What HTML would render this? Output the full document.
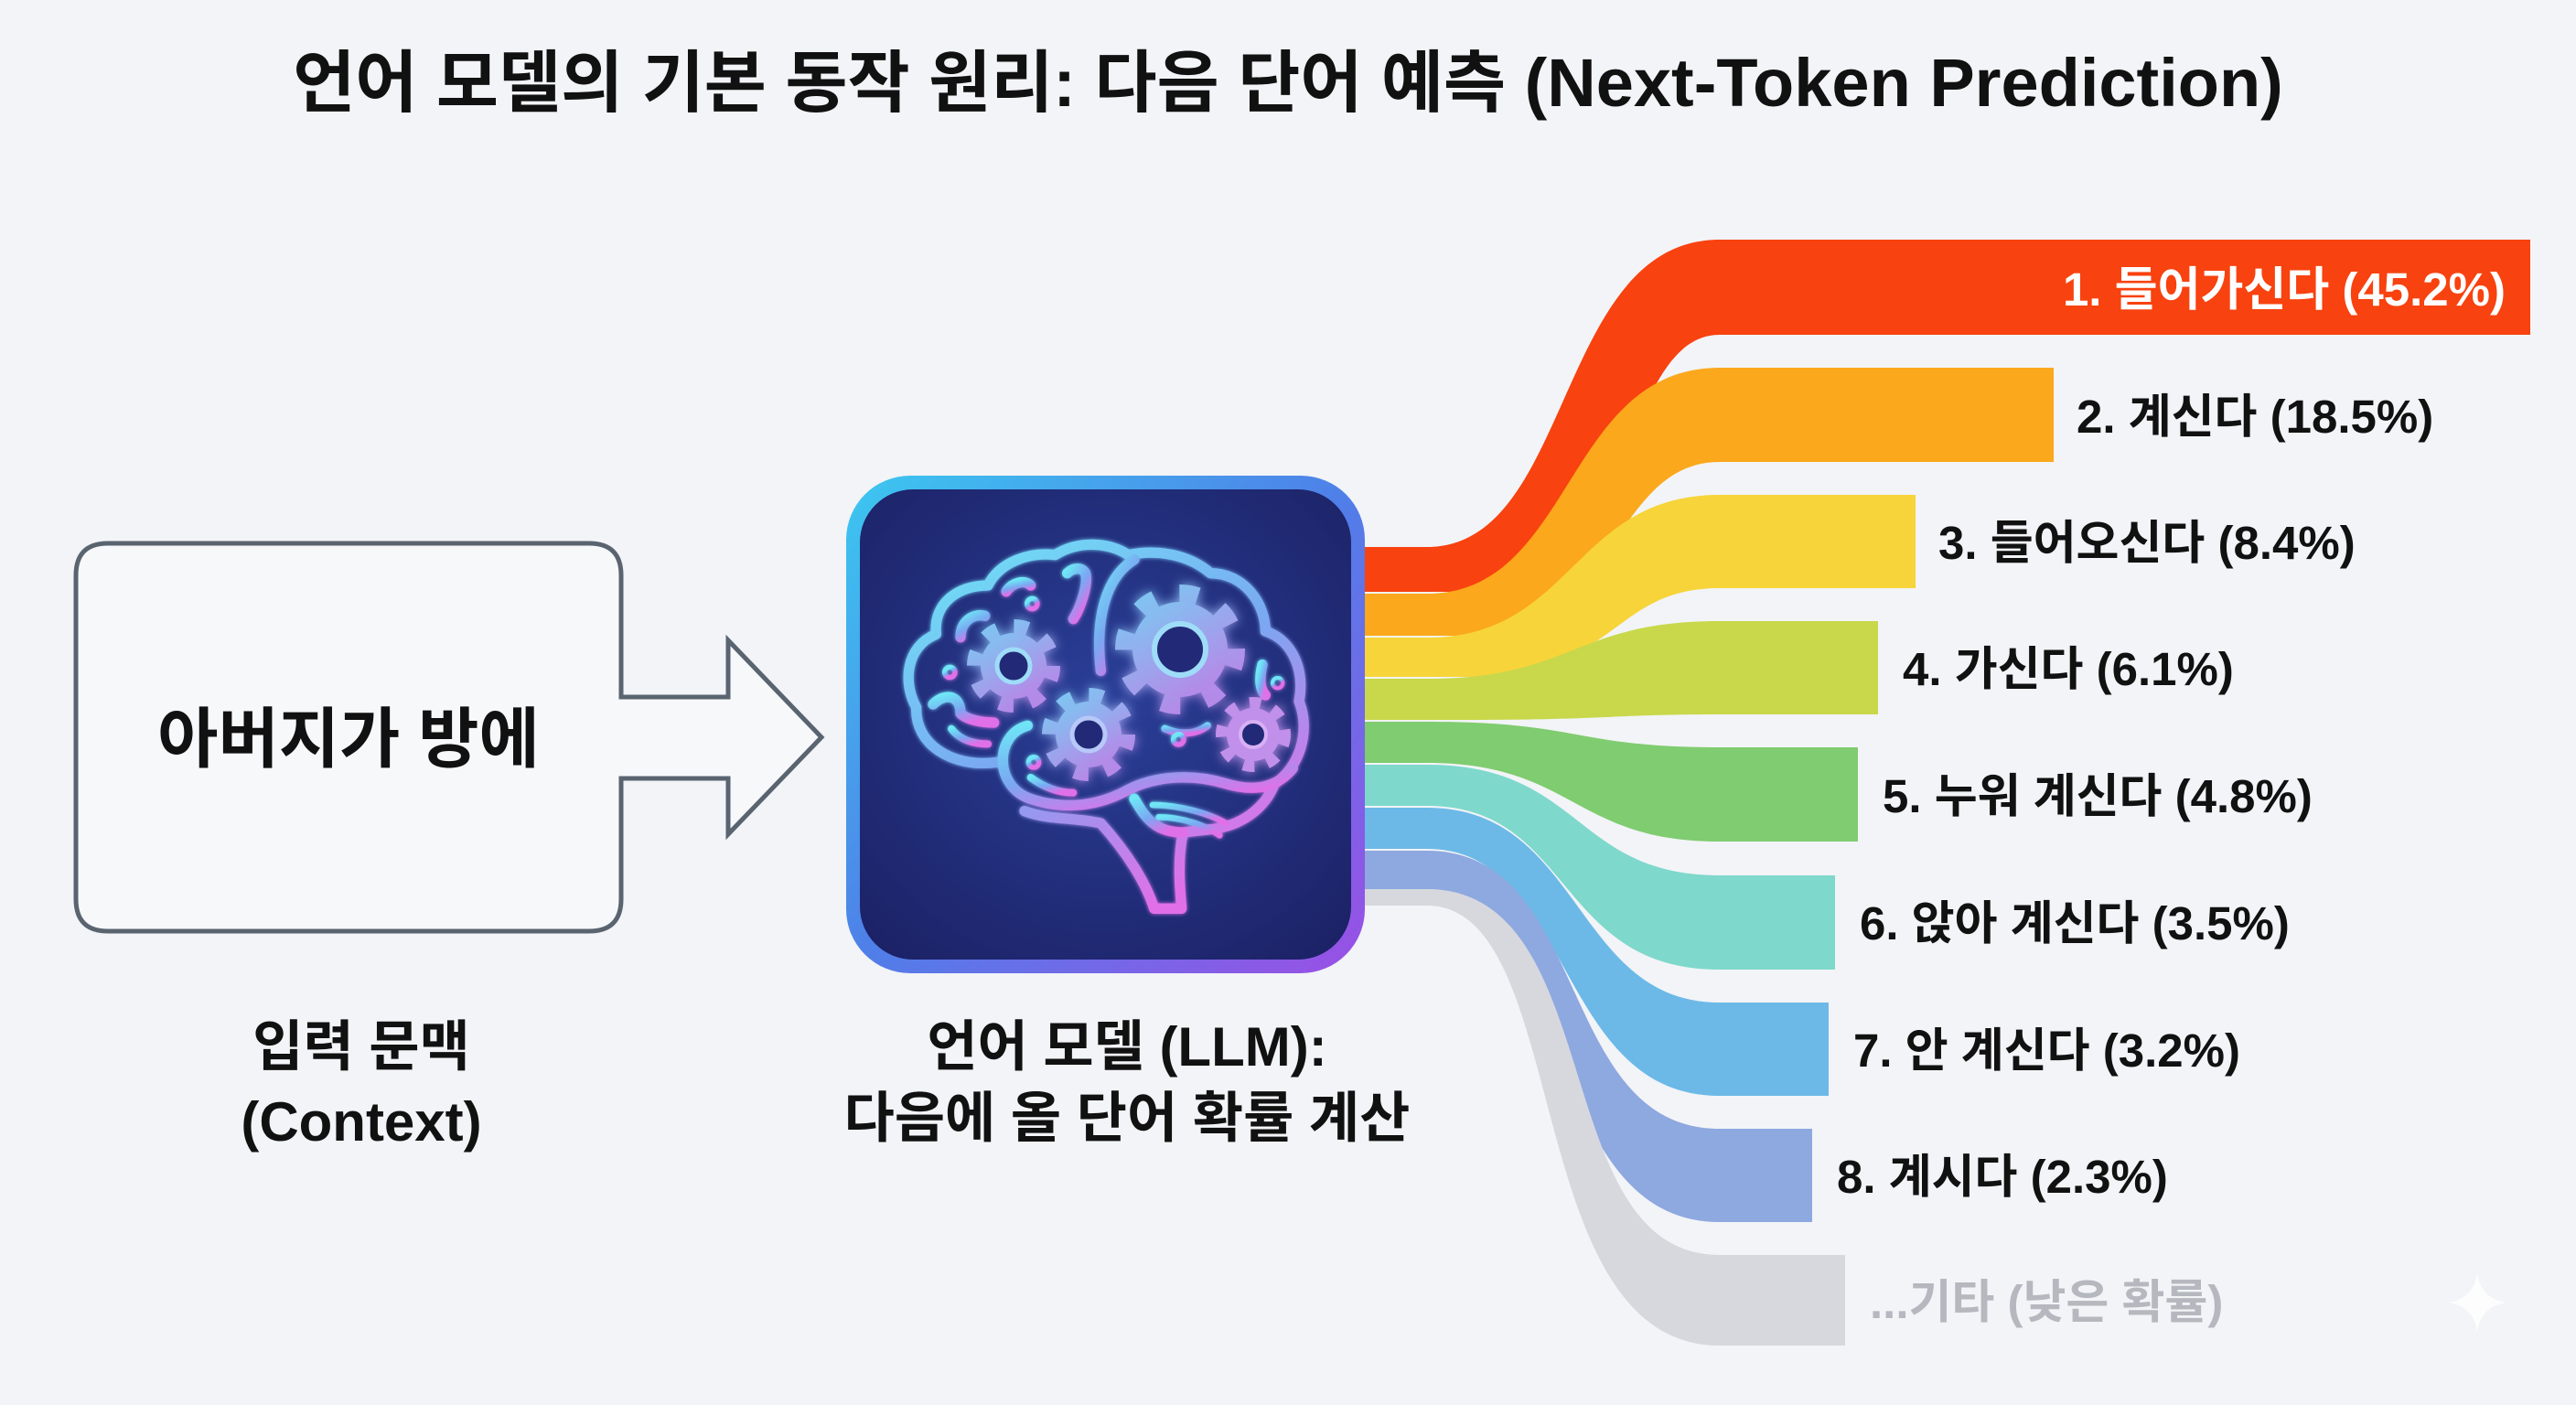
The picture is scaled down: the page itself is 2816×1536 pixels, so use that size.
<!DOCTYPE html>
<html><head><meta charset="utf-8"><style>
html,body{margin:0;padding:0;background:#f2f4f7;}
svg{display:block}
text{font-family:"Liberation Sans","Noto Sans CJK KR",sans-serif;}
</style></head><body>
<svg width="2816" height="1536" viewBox="0 0 2816 1536" xmlns="http://www.w3.org/2000/svg">
<defs>
<linearGradient id="bord" x1="0" y1="0" x2="1" y2="1">
<stop offset="0" stop-color="#3cc8f0"/><stop offset="0.5" stop-color="#4f7fe8"/><stop offset="1" stop-color="#9b4fe6"/></linearGradient>
<radialGradient id="inner" cx="0.5" cy="0.45" r="0.7">
<stop offset="0" stop-color="#2a3f98"/><stop offset="1" stop-color="#1c2266"/></radialGradient>
<linearGradient id="neon" x1="0" y1="0" x2="0.6" y2="1">
<stop offset="0" stop-color="#6fe6f6"/><stop offset="0.55" stop-color="#7aa8f2"/><stop offset="1" stop-color="#e070e8"/></linearGradient>
<linearGradient id="gearf" x1="0" y1="0" x2="0.6" y2="1">
<stop offset="0" stop-color="#7cc8f2"/><stop offset="1" stop-color="#b48ae8"/></linearGradient>
<filter id="glow" x="-20%" y="-20%" width="140%" height="140%"><feGaussianBlur stdDeviation="6" result="b"/><feMerge><feMergeNode in="b"/><feMergeNode in="SourceGraphic"/></feMerge></filter>
</defs>
<rect width="2816" height="1536" fill="#f2f4f7"/>

<text x="1408" y="116" text-anchor="middle" font-size="74" font-weight="bold" fill="#111">언어 모델의 기본 동작 원리: 다음 단어 예측 (Next-Token Prediction)</text>

<!-- input box + arrow -->
<path d="M118,594 H644 Q679,594 679,629 V762 H796 V700 L898,806 L796,912 V851 H679 V983 Q679,1018 644,1018 H118 Q83,1018 83,983 V629 Q83,594 118,594 Z" fill="#f7f8fa" stroke="#5a6470" stroke-width="5" stroke-linejoin="miter"/>
<text x="381" y="833" text-anchor="middle" font-size="72" font-weight="bold" fill="#111">아버지가 방에</text>
<text x="395" y="1165" text-anchor="middle" font-size="60" font-weight="bold" fill="#111">입력 문맥</text>
<text x="395" y="1247" text-anchor="middle" font-size="60" font-weight="bold" fill="#111">(Context)</text>

<!-- flows -->
<g>
<path d="M1480,598 L1560,598 C1720,598 1700,262 1880,262 L1940,262 L1940,366 L1880,366 C1770,366 1790,645 1600,647 L1480,647 Z" fill="#f8420f"/>
<path d="M1480,649 L1560,649 C1720,649 1710,402 1880,402 L1940,402 L1940,505 L1880,505 C1760,505 1770,695 1600,695 L1480,695 Z" fill="#fba81c"/>
<path d="M1480,697 L1560,697 C1720,697 1720,541 1880,541 L1940,541 L1940,643 L1880,643 C1760,643 1770,740 1600,740 L1480,740 Z" fill="#f7d43a"/>
<path d="M1480,742 L1560,742 C1720,742 1720,679 1880,679 L1940,679 L1940,781 L1880,781 C1760,781 1760,787 1600,787 L1480,787 Z" fill="#c8d84a"/>
<path d="M1480,789 L1560,789 C1730,789 1720,817 1880,817 L1940,817 L1940,920 L1880,920 C1720,920 1720,834 1560,834 L1480,834 Z" fill="#80cc70"/>
<path d="M1480,836 L1560,836 C1730,836 1720,957 1880,957 L1940,957 L1940,1060 L1880,1060 C1700,1060 1720,881 1560,881 L1480,881 Z" fill="#7fd8cc"/>
<path d="M1480,883 L1560,883 C1730,883 1720,1096 1880,1096 L1940,1096 L1940,1198 L1880,1198 C1700,1198 1720,928 1560,928 L1480,928 Z" fill="#6cb9e8"/>
<path d="M1480,930 L1560,930 C1740,930 1700,1234 1880,1234 L1940,1234 L1940,1336 L1880,1336 C1680,1336 1720,972 1560,972 L1480,972 Z" fill="#8ea8e0"/>
<path d="M1480,972 L1560,972 C1760,972 1690,1372 1880,1372 L1940,1372 L1940,1471 L1880,1471 C1660,1471 1720,990 1560,990 L1480,990 Z" fill="#d6d8de"/>
</g>
<!-- bars -->
<rect x="1932" y="262" width="834" height="104" fill="#f8420f"/>
<rect x="1932" y="402" width="313" height="103" fill="#fba81c"/>
<rect x="1932" y="541" width="162" height="102" fill="#f7d43a"/>
<rect x="1932" y="679" width="121" height="102" fill="#c8d84a"/>
<rect x="1932" y="817" width="99" height="103" fill="#80cc70"/>
<rect x="1932" y="957" width="74" height="103" fill="#7fd8cc"/>
<rect x="1932" y="1096" width="67" height="102" fill="#6cb9e8"/>
<rect x="1932" y="1234" width="49" height="102" fill="#8ea8e0"/>
<rect x="1932" y="1372" width="85" height="99" fill="#d6d8de"/>

<g font-size="51" font-weight="bold" fill="#111">
<text x="2739" y="334" text-anchor="end" fill="#fff">1. 들어가신다 (45.2%)</text>
<text x="2270" y="473">2. 계신다 (18.5%)</text>
<text x="2119" y="611">3. 들어오신다 (8.4%)</text>
<text x="2080" y="749">4. 가신다 (6.1%)</text>
<text x="2058" y="888">5. 누워 계신다 (4.8%)</text>
<text x="2033" y="1027">6. 앉아 계신다 (3.5%)</text>
<text x="2026" y="1166">7. 안 계신다 (3.2%)</text>
<text x="2008" y="1304">8. 계시다 (2.3%)</text>
<text x="2044" y="1441" fill="#b5b8be">...기타 (낮은 확률)</text>
</g>

<!-- LLM box -->
<rect x="925" y="520" width="567" height="544" rx="70" fill="url(#bord)"/>
<rect x="940" y="535" width="537" height="514" rx="58" fill="url(#inner)"/>
<g transform="translate(940,540) scale(0.33333)" fill="none" stroke="url(#neon)" stroke-width="34" stroke-linecap="round" stroke-linejoin="round" filter="url(#glow)">
<path d="M450,880 C300,900 180,820 185,700 C140,620 150,500 250,460 C240,360 320,300 420,300 C460,220 560,190 640,200 C720,150 820,160 880,200 C980,180 1080,200 1150,260 C1260,260 1330,360 1330,450 C1420,480 1460,580 1440,680 C1480,780 1440,900 1360,950 C1330,1030 1250,1090 1150,1100 L1060,1110 C1040,1200 1050,1300 1055,1360 L965,1360 C940,1280 880,1180 790,1080 C700,1060 620,1070 540,1040"/>
<path d="M550,760 C440,790 440,960 560,1000 C680,1040 790,1020 880,970 C980,920 1100,920 1200,950 C1300,980 1370,960 1420,900"/>
<path d="M900,215 C810,270 770,400 790,580"/>
<path d="M900,1000 C930,1050 960,1110 1060,1110"/>
<path d="M960,1020 C1050,1020 1150,1050 1200,1080" stroke-width="20"/>
<path d="M980,1060 C1060,1060 1140,1090 1180,1120" stroke-width="20"/>
<path d="M330,470 C330,420 370,390 410,400"/>
<path d="M480,320 C500,290 540,280 560,300"/>
<path d="M680,260 C700,240 730,240 740,260 C750,300 720,380 700,410"/>
<path d="M240,690 C280,650 330,660 330,720 C350,740 400,750 440,750"/>
<path d="M300,770 C330,810 380,820 420,820" stroke-width="24"/>
<path d="M560,930 C600,960 650,980 700,980" stroke-width="24"/>
<path d="M1000,770 C1050,790 1100,790 1140,760" stroke-width="24"/>
<path d="M990,860 L1130,860" stroke-width="24"/>
<path d="M1320,560 C1310,600 1310,640 1330,660"/>
<circle cx="295" cy="585" r="8"/><circle cx="565" cy="360" r="8"/><circle cx="570" cy="880" r="8"/><circle cx="1045" cy="805" r="8"/><circle cx="1370" cy="620" r="6"/>
</g>
<!-- gears -->
<g filter="url(#glow)">
<g transform="translate(1290,710)"><circle r="60" fill="none" stroke="url(#gearf)" stroke-width="22" stroke-dasharray="20 27"/><circle r="52" fill="url(#gearf)"/><circle r="28" fill="#232c78" stroke="#9fdcf8" stroke-width="6"/></g>
<g transform="translate(1108,728)"><circle r="42" fill="none" stroke="url(#gearf)" stroke-width="18" stroke-dasharray="15 18"/><circle r="36" fill="url(#gearf)"/><circle r="18" fill="#232c78" stroke="#9fdcf8" stroke-width="5"/></g>
<g transform="translate(1190,803)"><circle r="42" fill="none" stroke="url(#gearf)" stroke-width="18" stroke-dasharray="15 18"/><circle r="36" fill="url(#gearf)"/><circle r="18" fill="#232c78" stroke="#b8c8f8" stroke-width="5"/></g>
<g transform="translate(1370,803)"><circle r="34" fill="none" stroke="#c090ea" stroke-width="14" stroke-dasharray="12 14"/><circle r="29" fill="#c090ea"/><circle r="14" fill="#232c78" stroke="#d8b0f4" stroke-width="4"/></g>
</g>

<text x="1232" y="1165" text-anchor="middle" font-size="60" font-weight="bold" fill="#111">언어 모델 (LLM):</text>
<text x="1232" y="1243" text-anchor="middle" font-size="60" font-weight="bold" fill="#111">다음에 올 단어 확률 계산</text>

<path d="M2708,1392 Q2712,1420 2740,1424 Q2712,1428 2708,1456 Q2704,1428 2676,1424 Q2704,1420 2708,1392 Z" fill="#ffffff" opacity="0.8"/>
</svg>
</body></html>
